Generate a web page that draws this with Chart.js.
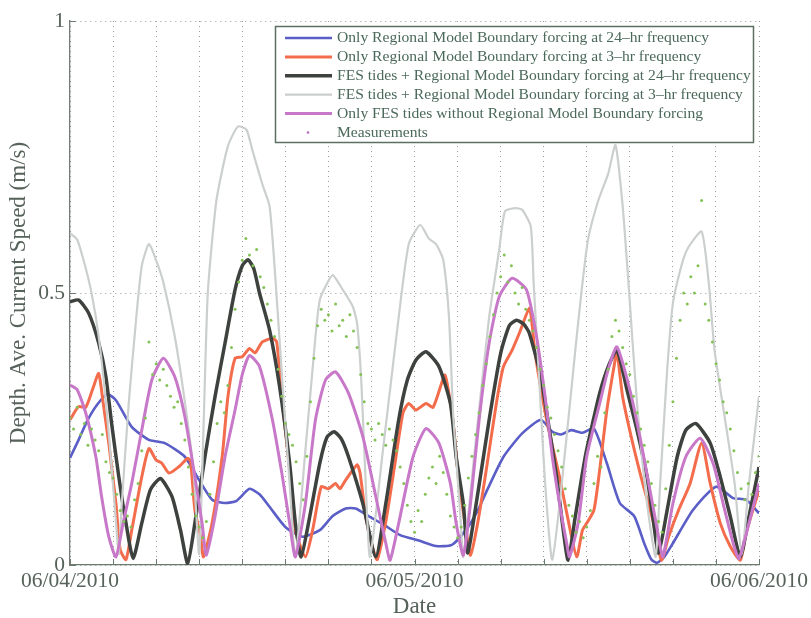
<!DOCTYPE html>
<html>
<head>
<meta charset="utf-8">
<title>Depth averaged current speed</title>
<script src="https://cdn.jsdelivr.net/npm/chart.js@4.4.1/dist/chart.umd.min.js"></script>
<style>
  html, body { margin: 0; padding: 0; background: #fff; }
  canvas { display: block; }
</style>
</head>
<body>
<canvas id="chart" width="811" height="618"></canvas>
<script>
// hours since 06/04/2010 00:00
const dayLabels = ['06/04/2010', '06/05/2010', '06/06/2010'];
const yTickLabels = ['0', '0.5', '1'];

// Only Regional Model Boundary forcing at 24-hr frequency
const regional24Hours = [0, 0.6, 1.2, 1.9, 2.6, 3.2, 4.3, 5.5, 6.6, 8.0, 9.0, 9.9, 10.8, 11.6, 12.5, 13.2, 13.9, 15.0, 16.2, 17.4,
  18.3, 19.2, 19.9, 20.8, 21.8, 23.0, 24.3, 25.5, 26.6, 27.6, 28.4, 29.1, 30.2, 31.5, 32.8, 33.6, 34.2, 34.9, 35.7, 36.5,
  37.4, 38.3, 39.3, 40.0, 40.5, 40.9, 41.4, 42.0, 43.4, 45.0, 46.2, 47.1, 48.0];
const regional24 = [0.197, 0.23, 0.265, 0.295, 0.314, 0.303, 0.254, 0.23, 0.224, 0.199, 0.156, 0.12, 0.114, 0.118, 0.14, 0.13, 0.107, 0.07, 0.052, 0.064,
  0.09, 0.104, 0.104, 0.09, 0.075, 0.055, 0.045, 0.035, 0.037, 0.065, 0.1, 0.14, 0.199, 0.242, 0.267, 0.245, 0.24, 0.248, 0.243, 0.251,
  0.187, 0.114, 0.09, 0.04, 0.01, 0.004, 0.015, 0.04, 0.101, 0.144, 0.123, 0.12, 0.095];

// Only Regional Model Boundary forcing at 3-hr frequency
const regional3Hours = [0, 0.6, 1.1, 1.6, 2.0, 2.3, 2.7, 3.2, 3.5, 3.9, 4.3, 5.0, 5.5, 6.0, 6.4, 6.9, 7.6, 8.2, 8.4, 8.7,
  9.1, 9.3, 9.9, 10.6, 11.0, 11.5, 12.0, 12.5, 12.9, 13.4, 14.1, 14.4, 14.8, 15.3, 15.7, 16.4, 16.9, 17.5, 18.0, 18.5,
  18.8, 19.2, 20.0, 20.2, 20.6, 21.0, 21.4, 22.0, 22.6, 23.2, 23.6, 24.1, 24.8, 25.3, 26.1, 26.3, 26.7, 27.1, 27.6, 27.9,
  28.4, 29.0, 29.7, 30.2, 30.8, 31.3, 32.0, 32.2, 32.4, 33.2, 34.1, 34.8, 35.3, 35.7, 36.0, 36.5, 36.9, 37.4, 37.9, 38.1,
  38.5, 39.2, 39.9, 40.6, 41.2, 41.7, 42.4, 43.2, 44.0, 44.6, 45.3, 46.0, 46.7, 47.1, 48.0];
const regional3 = [0.267, 0.291, 0.29, 0.325, 0.352, 0.3, 0.224, 0.113, 0.028, 0.01, 0.064, 0.162, 0.214, 0.193, 0.187, 0.169, 0.181, 0.196, 0.19, 0.101,
  0.052, 0.015, 0.077, 0.199, 0.309, 0.38, 0.383, 0.398, 0.39, 0.41, 0.417, 0.41, 0.297, 0.175, 0.064, 0.015, 0.064, 0.144, 0.14, 0.15,
  0.14, 0.156, 0.184, 0.17, 0.089, 0.04, 0.01, 0.08, 0.18, 0.28, 0.297, 0.285, 0.297, 0.29, 0.349, 0.33, 0.26, 0.15, 0.064, 0.018,
  0.077, 0.175, 0.297, 0.365, 0.395, 0.426, 0.472, 0.44, 0.389, 0.267, 0.162, 0.07, 0.015, 0.064, 0.077, 0.101, 0.175, 0.285, 0.365, 0.392,
  0.309, 0.224, 0.15, 0.083, 0.009, 0.052, 0.101, 0.15, 0.224, 0.15, 0.077, 0.034, 0.009, 0.059, 0.138];

// FES tides + Regional Model Boundary forcing at 24-hr frequency
const fes24Hours = [0, 0.6, 1.3, 2.0, 2.5, 2.9, 3.4, 3.9, 4.4, 5.0, 5.6, 6.3, 7.1, 7.7, 8.2, 8.7, 9.4, 10.1, 10.8, 11.5,
  12.0, 12.4, 12.8, 13.2, 13.9, 14.6, 15.3, 15.7, 16.1, 16.7, 17.4, 17.9, 18.4, 18.9, 19.4, 20.4, 21.3, 22.0, 22.9, 23.5,
  24.1, 24.8, 25.7, 26.5, 26.9, 27.4, 27.7, 28.3, 29.2, 30.0, 30.6, 31.1, 31.6, 32.0, 32.8, 33.4, 33.9, 34.3, 34.7, 35.2,
  35.9, 36.4, 36.9, 37.5, 38.1, 38.8, 39.5, 40.2, 40.6, 41.0, 41.6, 42.3, 42.9, 43.6, 44.6, 45.3, 46.0, 46.7, 47.3, 48.0];
const fes24 = [0.484, 0.487, 0.463, 0.408, 0.346, 0.26, 0.162, 0.077, 0.012, 0.077, 0.138, 0.159, 0.126, 0.064, 0.003, 0.077, 0.199, 0.309, 0.408, 0.506,
  0.55, 0.561, 0.545, 0.5, 0.432, 0.328, 0.187, 0.077, 0.015, 0.089, 0.187, 0.235, 0.245, 0.232, 0.199, 0.113, 0.015, 0.113, 0.267, 0.34,
  0.377, 0.392, 0.365, 0.297, 0.199, 0.113, 0.022, 0.113, 0.267, 0.389, 0.44, 0.45, 0.443, 0.426, 0.346, 0.248, 0.162, 0.077, 0.009, 0.089,
  0.2, 0.26, 0.316, 0.365, 0.395, 0.322, 0.248, 0.162, 0.089, 0.022, 0.101, 0.199, 0.248, 0.26, 0.224, 0.162, 0.089, 0.015, 0.089, 0.18];

// FES tides + Regional Model Boundary forcing at 3-hr frequency
const fes3Hours = [0, 0.5, 1.0, 1.5, 2.0, 2.5, 2.9, 3.2, 3.4, 3.6, 4.1, 4.6, 5.0, 5.5, 6.0, 6.5, 7.3, 8.0, 8.6, 9.0,
  9.3, 9.6, 10.2, 11.0, 11.7, 12.3, 12.7, 13.4, 13.9, 14.3, 14.8, 15.3, 15.7, 16.4, 17.1, 17.4, 17.8, 18.3, 19.0, 19.7,
  20.0, 20.3, 20.6, 20.9, 21.8, 22.9, 23.6, 24.4, 25.0, 25.5, 26.0, 26.4, 26.7, 27.2, 27.4, 28.2, 29.2, 29.9, 30.3, 31.0,
  31.5, 32.1, 32.3, 32.7, 33.1, 33.6, 34.5, 35.2, 35.7, 36.1, 36.8, 37.5, 38.0, 38.5, 38.9, 39.5, 40.2, 40.8, 41.1, 41.6,
  42.0, 42.7, 43.1, 44.0, 44.5, 44.9, 45.6, 46.3, 46.8, 47.3, 48.0];
const fes3 = [0.61, 0.598, 0.555, 0.5, 0.42, 0.3, 0.18, 0.08, 0.02, 0.11, 0.3, 0.45, 0.55, 0.59, 0.56, 0.52, 0.42, 0.3, 0.175, 0.02,
  0.25, 0.5, 0.67, 0.77, 0.806, 0.8, 0.763, 0.7, 0.66, 0.53, 0.334, 0.15, 0.015, 0.211, 0.42, 0.487, 0.512, 0.533, 0.506, 0.475,
  0.444, 0.334, 0.15, 0.015, 0.211, 0.456, 0.59, 0.625, 0.6, 0.59, 0.561, 0.456, 0.273, 0.089, 0.015, 0.211, 0.456, 0.579, 0.65, 0.656,
  0.653, 0.622, 0.518, 0.334, 0.15, 0.01, 0.211, 0.395, 0.518, 0.6, 0.67, 0.72, 0.772, 0.66, 0.52, 0.297, 0.113, 0.015, 0.144, 0.358,
  0.481, 0.56, 0.585, 0.613, 0.518, 0.395, 0.273, 0.15, 0.02, 0.15, 0.31];

// Only FES tides without Regional Model Boundary forcing
const tidesHours = [0, 0.5, 1.1, 1.8, 2.2, 2.7, 3.2, 3.7, 4.3, 5.0, 5.7, 6.5, 7.3, 8.0, 8.7, 9.2, 9.5, 10.1, 10.8, 11.5,
  12.0, 12.5, 13.2, 14.1, 14.8, 15.3, 15.7, 16.4, 17.1, 17.8, 18.5, 19.4, 20.4, 21.3, 22.0, 22.3, 22.9, 23.9, 24.8, 25.7,
  26.5, 26.9, 27.4, 27.9, 28.5, 29.2, 29.9, 30.8, 31.8, 32.5, 33.1, 33.6, 34.1, 34.6, 34.8, 35.4, 36.0, 36.9, 37.5, 38.1,
  39.0, 39.7, 40.4, 41.0, 41.3, 42.0, 42.9, 43.9, 44.8, 45.5, 46.2, 46.6, 47.3, 48.0];
const tides = [0.331, 0.322, 0.279, 0.199, 0.126, 0.052, 0.015, 0.077, 0.15, 0.248, 0.34, 0.38, 0.346, 0.273, 0.162, 0.077, 0.018, 0.089, 0.199, 0.285,
  0.35, 0.385, 0.365, 0.267, 0.162, 0.077, 0.015, 0.113, 0.267, 0.34, 0.355, 0.316, 0.236, 0.126, 0.04, 0.009, 0.077, 0.199, 0.251, 0.224,
  0.15, 0.077, 0.018, 0.113, 0.267, 0.408, 0.493, 0.527, 0.506, 0.42, 0.309, 0.199, 0.113, 0.04, 0.015, 0.077, 0.2, 0.297, 0.36, 0.401,
  0.322, 0.236, 0.138, 0.052, 0.015, 0.113, 0.199, 0.233, 0.187, 0.113, 0.04, 0.012, 0.077, 0.15];

// Measurements, one every 15 minutes
const measureStep = 0.25;
const measurements = [
  0.27, 0.25, 0.29, 0.24, 0.26, 0.22, 0.25, 0.23, 0.21, 0.24, 0.19, 0.17,
  0.16, 0.13, 0.10, 0.08, 0.09, 0.07, 0.12, 0.15, 0.21, 0.27, 0.41, 0.35,
  0.37, 0.34, 0.36, 0.33, 0.31, 0.29, 0.30, 0.26, 0.23, 0.18, 0.13, 0.09,
  0.07, 0.05, 0.08, 0.13, 0.19, 0.26, 0.30, 0.28, 0.33, 0.40, 0.47, 0.52,
  0.56, 0.60, 0.57, 0.55, 0.58, 0.53, 0.51, 0.48, 0.45, 0.42, 0.36, 0.31,
  0.26, 0.24, 0.22, 0.19, 0.15, 0.12, 0.20, 0.30, 0.38, 0.44, 0.47, 0.45,
  0.46, 0.43, 0.48, 0.44, 0.45, 0.42, 0.46, 0.43, 0.40, 0.35, 0.30, 0.26,
  0.25, 0.23, 0.26, 0.24, 0.22, 0.25, 0.23, 0.21, 0.18, 0.15, 0.11, 0.08,
  0.06, 0.10, 0.08, 0.13, 0.16, 0.18, 0.15, 0.20, 0.17, 0.13, 0.09, 0.07,
  0.05, 0.07, 0.11, 0.16, 0.20, 0.24, 0.28, 0.33, 0.37, 0.42, 0.46, 0.50,
  0.53, 0.57, 0.52, 0.55, 0.50, 0.48, 0.51, 0.47, 0.45, 0.43, 0.40, 0.36,
  0.33, 0.29, 0.27, 0.24, 0.21, 0.18, 0.14, 0.11, 0.09, 0.06, 0.08, 0.05,
  0.07, 0.10, 0.15, 0.20, 0.18, 0.28, 0.36, 0.42, 0.45, 0.43, 0.40, 0.37,
  0.35, 0.31, 0.28, 0.25, 0.22, 0.19, 0.15, 0.11, 0.08, 0.06, 0.14, 0.22,
  0.30, 0.38, 0.45, 0.50, 0.48, 0.53, 0.50, 0.55, 0.67, 0.48, 0.45, 0.41,
  0.37, 0.34, 0.30, 0.28, 0.25, 0.21, 0.17, 0.14, 0.12, 0.15, 0.13, 0.17,
  0.20
];

function pts(hours, values) {
  return hours.map((h, i) => ({ x: h, y: values[i] }));
}

const serif = "'Liberation Serif', 'DejaVu Serif', serif";
const textColor = '#56625a';

const datasets = [
  {
    label: 'Only Regional Model Boundary forcing at 24\u2013hr frequency',
    data: pts(regional24Hours, regional24),
    borderColor: '#5a5ec6',
    borderWidth: 2.6,
    order: 5
  },
  {
    label: 'Only Regional Model Boundary forcing at 3\u2013hr frequency',
    data: pts(regional3Hours, regional3),
    borderColor: '#f36c4c',
    borderWidth: 3,
    order: 4
  },
  {
    label: 'FES tides + Regional Model Boundary forcing at 24\u2013hr frequency',
    data: pts(fes24Hours, fes24),
    borderColor: '#3d423e',
    borderWidth: 3.5,
    order: 3
  },
  {
    label: 'FES tides + Regional Model Boundary forcing at 3\u2013hr frequency',
    data: pts(fes3Hours, fes3),
    borderColor: '#cbcfce',
    borderWidth: 2.2,
    order: 2
  },
  {
    label: 'Only FES tides without Regional Model Boundary forcing',
    data: pts(tidesHours, tides),
    borderColor: '#c878c8',
    borderWidth: 3,
    order: 1
  },
  {
    label: 'Measurements',
    data: measurements.map((v, i) => ({ x: i * measureStep, y: v })),
    showLine: false,
    pointRadius: 1.5,
    pointBackgroundColor: '#84c257',
    pointBorderWidth: 0,
    legendDot: '#b86cc0',
    order: 0
  }
];
datasets.forEach(ds => {
  if (ds.showLine !== false) {
    ds.pointRadius = 0;
    ds.tension = 0.2;
    ds.fill = false;
  }
});

// legend box in the upper right, like the MATLAB one
const boxLegend = {
  id: 'boxLegend',
  afterDatasetsDraw(chart) {
    const ctx = chart.ctx;
    ctx.save();
    ctx.fillStyle = '#ffffff';
    ctx.fillRect(275.5, 26.5, 478, 116);
    ctx.strokeStyle = '#5c6f63';
    ctx.lineWidth = 1.5;
    ctx.strokeRect(275.5, 26.5, 478, 116);
    ctx.font = '15.6px ' + serif;
    ctx.textBaseline = 'middle';
    chart.data.datasets.forEach((ds, i) => {
      const y = 38 + i * 18.9;
      if (ds.showLine === false) {
        ctx.fillStyle = ds.legendDot;
        ctx.beginPath();
        ctx.arc(308, y, 1.3, 0, Math.PI * 2);
        ctx.fill();
      } else {
        ctx.strokeStyle = ds.borderColor;
        ctx.lineWidth = ds.borderWidth;
        ctx.beginPath();
        ctx.moveTo(285, y);
        ctx.lineTo(332, y);
        ctx.stroke();
      }
      ctx.fillStyle = '#4b695a';
      ctx.fillText(ds.label, 337, y);
    });
    ctx.restore();
  }
};

// small inward tick marks on the left and bottom axes
const innerTicks = {
  id: 'innerTicks',
  afterDraw(chart) {
    const { ctx, chartArea } = chart;
    const xs = chart.scales.x, ys = chart.scales.y;
    ctx.save();
    ctx.lineWidth = 1;
    ctx.strokeStyle = '#6b7b6f';
    xs.ticks.forEach(t => {
      const px = Math.round(xs.getPixelForValue(t.value)) + 0.5;
      ctx.beginPath();
      ctx.moveTo(px, chartArea.bottom);
      ctx.lineTo(px, chartArea.bottom - 6);
      ctx.stroke();
    });
    ys.ticks.forEach(t => {
      const py = Math.round(ys.getPixelForValue(t.value)) + 0.5;
      ctx.beginPath();
      ctx.moveTo(chartArea.left, py);
      ctx.lineTo(chartArea.left + 6, py);
      ctx.stroke();
    });
    ctx.restore();
  }
};

new Chart(document.getElementById('chart'), {
  type: 'line',
  data: { datasets: datasets },
  options: {
    responsive: false,
    animation: false,
    devicePixelRatio: 1,
    layout: { padding: { top: 21, right: 50, left: 0, bottom: 0 } },
    plugins: {
      legend: { display: false },
      tooltip: { enabled: false }
    },
    scales: {
      x: {
        type: 'linear',
        min: 0,
        max: 48,
        afterFit: s => { s.height = 53; },
        ticks: {
          stepSize: 3,
          autoSkip: false,
          maxRotation: 0,
          padding: 3,
          color: textColor,
          font: { family: serif, size: 21.5 },
          callback: v => (v % 24 === 0 ? dayLabels[v / 24] : '')
        },
        grid: { color: '#9c9c9c', lineWidth: 1, drawTicks: false },
        border: { color: '#6b7b6f', width: 1.3, dash: [1, 4] },
        title: {
          display: true,
          text: 'Date',
          color: textColor,
          font: { family: serif, size: 23 },
          padding: { top: 0, bottom: -3 }
        }
      },
      y: {
        min: 0,
        max: 1,
        afterFit: s => { s.width = 70; },
        ticks: {
          stepSize: 0.5,
          padding: 5,
          color: textColor,
          font: { family: serif, size: 21.5 },
          callback: v => yTickLabels[Math.round(v * 2)]
        },
        grid: { color: '#9c9c9c', lineWidth: 1, drawTicks: false },
        border: { color: '#767a78', width: 1.3, dash: [1, 4] },
        title: {
          display: true,
          text: 'Depth. Ave. Current Speed (m/s)',
          color: textColor,
          font: { family: serif, size: 23 },
          padding: { top: 5, bottom: 0 }
        }
      }
    }
  },
  plugins: [boxLegend, innerTicks]
});
</script>
</body>
</html>
